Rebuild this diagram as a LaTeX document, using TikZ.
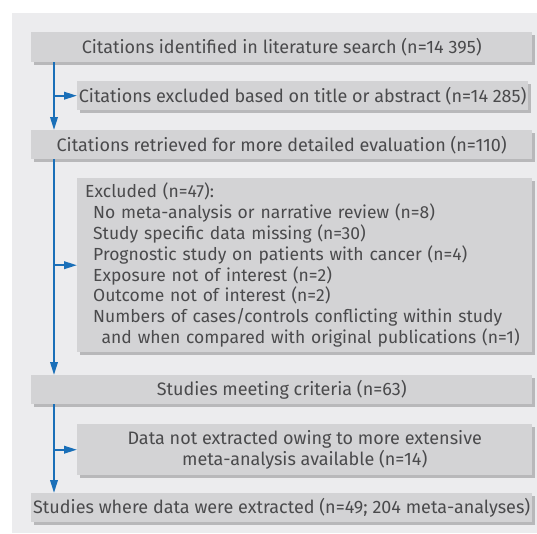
\documentclass[tikz,border=0pt]{standalone}
\usepackage{fontspec}
\setmainfont{Fira Sans}
\usetikzlibrary{arrows.meta}
\definecolor{panel}{HTML}{ECECEE}
\definecolor{boxfill}{HTML}{D3D3D5}
\definecolor{boxshadow}{HTML}{B8B8BA}
\definecolor{txt}{HTML}{4A4A4C}
\definecolor{flow}{HTML}{1A6FB8}
\begin{document}
\begin{tikzpicture}[x=1pt,y=-1pt,
  box/.style={fill=boxfill, text=txt, inner sep=0pt, anchor=north west,
    font=\fontsize{18}{20.8}\selectfont,
    preaction={fill=boxshadow, transform canvas={xshift=3pt,yshift=-3pt}}},
  flowline/.style={draw=flow, line width=2pt},
  flowarrow/.style={flowline, -{Triangle[length=13pt,width=7.5pt]}}]
\useasboundingbox (0,0) rectangle (537,533);
\fill[panel] (12,13) rectangle (537,533);
\coordinate (spine) at (54,0);
\node[box, minimum width=501pt, minimum height=30pt] (b1) at (31,32)
  {Citations identified in literature search (n=14 395)};
\node[box, minimum width=451pt, minimum height=29pt] (b2) at (77,81)
  {Citations excluded based on title or abstract (n=14 285)};
\node[box, minimum width=501pt, minimum height=29pt] (b3) at (31,130)
  {Citations retrieved for more detailed evaluation (n=110)};
\node[box, minimum width=455pt, minimum height=174pt, text width=439pt, inner xsep=8pt, align=left,
      font=\fontsize{17.5}{20.8}\selectfont] (b4) at (77,178)
  {Excluded (n=47):\\
   \hspace*{8pt}No meta-analysis or narrative review (n=8)\\
   \hspace*{8pt}Study specific data missing (n=30)\\
   \hspace*{8pt}Prognostic study on patients with cancer (n=4)\\
   \hspace*{8pt}Exposure not of interest (n=2)\\
   \hspace*{8pt}Outcome not of interest (n=2)\\
   \hspace*{8pt}\mbox{Numbers of cases/controls conflicting within study}\\
   \hspace*{16.5pt}\mbox{and when compared with original publications (n=1)}};
\node[box, minimum width=501pt, minimum height=29pt] (b5) at (31,375)
  {Studies meeting criteria (n=63)};
\node[box, minimum width=455pt, minimum height=51pt, align=center] (b6) at (77,424)
  {Data not extracted owing to more extensive\\meta-analysis available (n=14)};
\node[box, minimum width=501pt, minimum height=29pt] (b7) at (31,493)
  {Studies where data were extracted (n=49; 204 meta-analyses)};
\draw[flowarrow] (b1.south -| spine) -- (b3.north -| spine);
\draw[flowarrow] (b2.west -| spine) -- (b2.west);
\draw[flowarrow] (b3.south -| spine) -- (b5.north -| spine);
\draw[flowarrow] (b4.west -| spine) -- (b4.west);
\draw[flowarrow] (b5.south -| spine) -- (b7.north -| spine);
\draw[flowarrow] (b6.west -| spine) -- (b6.west);
\end{tikzpicture}
\end{document}
